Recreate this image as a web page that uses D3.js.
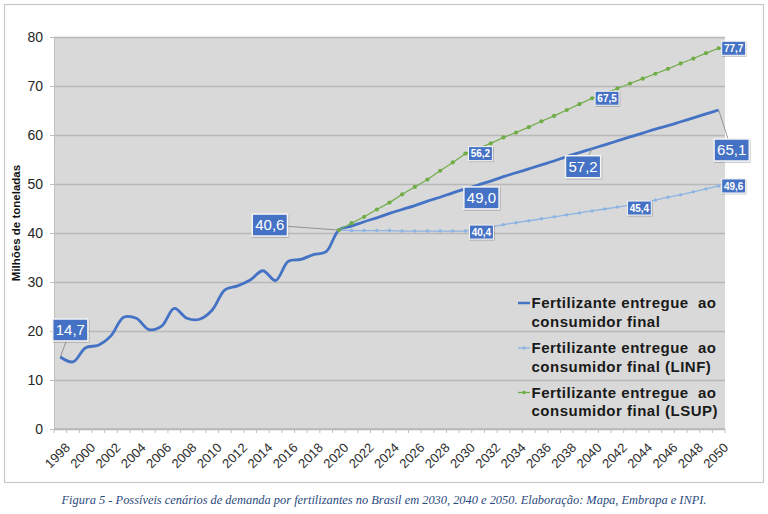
<!DOCTYPE html>
<html>
<head>
<meta charset="utf-8">
<script src="https://cdn.jsdelivr.net/npm/d3@7"></script>
<style>
  body { margin: 0; background: #fff; }
  svg { display: block; font-family: "Liberation Sans", Arial, sans-serif; }
</style>
</head>
<body>
<svg id="chart" width="768" height="514"></svg>
<script>
// --- data ---
const years = [1998, 1999, 2000, 2001, 2002, 2003, 2004, 2005, 2006, 2007, 2008, 2009, 2010,
  2011, 2012, 2013, 2014, 2015, 2016, 2017, 2018, 2019, 2020, 2021, 2022, 2023, 2024, 2025,
  2026, 2027, 2028, 2029, 2030, 2031, 2032, 2033, 2034, 2035, 2036, 2037, 2038, 2039, 2040,
  2041, 2042, 2043, 2044, 2045, 2046, 2047, 2048, 2049, 2050];

// 1998–2020 observed
const histValues = [14.7, 13.7, 16.6, 17.1, 19.0, 22.8, 22.6, 20.3, 21.0, 24.6, 22.6, 22.4,
  24.3, 28.4, 29.2, 30.4, 32.3, 30.3, 34.2, 34.6, 35.6, 36.2, 40.6];
// 2021–2050 base scenario
const baseProjValues = [41.4, 42.3, 43.1, 44.0, 44.8, 45.6, 46.5, 47.3, 48.2, 49.0,
  49.8, 50.6, 51.5, 52.3, 53.1, 53.9, 54.7, 55.6, 56.4, 57.2,
  58.0, 58.8, 59.6, 60.4, 61.2, 61.9, 62.7, 63.5, 64.3, 65.1];
// 2020–2050 lower / upper limits
const linfValues = [40.6, 40.5, 40.5, 40.5, 40.5, 40.4, 40.4, 40.4, 40.4, 40.4, 40.4,
  40.8, 41.2, 41.7, 42.1, 42.5, 42.9, 43.3, 43.7, 44.1, 44.5,
  44.9, 45.3, 45.7, 46.2, 46.7, 47.3, 47.8, 48.4, 49.0, 49.6];
const lsupValues = [40.6, 42.0, 43.3, 44.8, 46.2, 47.9, 49.4, 50.9, 52.7, 54.4, 56.2,
  57.3, 58.3, 59.5, 60.5, 61.6, 62.8, 63.9, 65.1, 66.3, 67.5,
  68.5, 69.5, 70.5, 71.5, 72.5, 73.5, 74.6, 75.6, 76.7, 77.7];

const yTicks = [0, 10, 20, 30, 40, 50, 60, 70, 80];
const xTickLabels = ['1998', '2000', '2002', '2004', '2006', '2008', '2010', '2012', '2014',
  '2016', '2018', '2020', '2022', '2024', '2026', '2028', '2030', '2032', '2034', '2036',
  '2038', '2040', '2042', '2044', '2046', '2048', '2050'];

const seriesNames = ['base', 'linf', 'lsup'];
const legendLines = [
  ['Fertilizante entregue  ao', 'consumidor final'],
  ['Fertilizante entregue  ao', 'consumidor final (LINF)'],
  ['Fertilizante entregue  ao', 'consumidor final (LSUP)']
];
const labelYears = [1998, 2020, 2030, 2040, 2050, 2030, 2042, 2050, 2030, 2040, 2050];
const labelSeries = ['base', 'base', 'base', 'base', 'base', 'linf', 'linf', 'linf', 'lsup', 'lsup', 'lsup'];
const labelTexts = ['14,7', '40,6', '49,0', '57,2', '65,1', '40,4', '45,4', '49,6', '56,2', '67,5', '77,7'];

const yTitle = 'Milhões de toneladas';
const caption = 'Figura 5 - Possíveis cenários de demanda por fertilizantes no Brasil em 2030, 2040 e 2050. Elaboração: Mapa, Embrapa e INPI.';

// --- layout / styles ---
const colors = { base: '#4472C4', linf: '#8DB4E2', lsup: '#70AD47' };
const plot = { left: 54, right: 725, top: 37, bottom: 429 };
// label placement relative to the point: dx, dy, big box?, leader line?
const labelLayout = [
  [10, -27, true, true], [-69, -5, true, true], [16, 9, true, false], [-9, 18, true, true], [13, 40, true, true],
  [16, 1, false, false], [22, 1, false, false], [15, 0, false, false],
  [15, 0, false, false], [15, 0, false, false], [15, 0, false, false]
];

const svg = d3.select('#chart');

const defs = svg.append('defs');
const shadow = defs.append('filter').attr('id', 'shadow')
  .attr('x', '-20%').attr('y', '-20%').attr('width', '150%').attr('height', '150%');
shadow.append('feDropShadow').attr('dx', 0.6).attr('dy', 0.8).attr('stdDeviation', 0.7)
  .attr('flood-color', '#000').attr('flood-opacity', 0.3);

// frame
svg.append('rect')
  .attr('x', 4.5).attr('y', 4.5).attr('width', 759).attr('height', 478)
  .attr('fill', '#fff').attr('stroke', '#c9c9c9').attr('stroke-width', 1.2);

const x = d3.scaleBand().domain(years).range([plot.left, plot.right]).padding(0);
const cx = d => x(d) + x.bandwidth() / 2;
const y = d3.scaleLinear().domain([0, 80]).range([plot.bottom, plot.top]);

// plot area
svg.append('rect')
  .attr('x', plot.left).attr('y', plot.top)
  .attr('width', plot.right - plot.left).attr('height', plot.bottom - plot.top)
  .attr('fill', '#d9d9d9');

// gridlines
svg.append('g')
  .attr('transform', `translate(${plot.left},0)`)
  .call(d3.axisLeft(y).tickValues(yTicks).tickFormat('').tickSize(-(plot.right - plot.left)))
  .call(g => g.select('.domain').remove())
  .call(g => g.selectAll('line').attr('stroke', '#b8b8b8').attr('stroke-width', 1.3));

// y axis
svg.append('g')
  .attr('transform', `translate(${plot.left},0)`)
  .call(d3.axisLeft(y).tickValues(yTicks).tickSize(4).tickPadding(7))
  .call(g => g.select('.domain').attr('stroke', '#bfbfbf'))
  .call(g => g.selectAll('line').attr('stroke', '#bfbfbf'))
  .call(g => g.selectAll('text').attr('fill', '#262626')
    .style('font-size', '14px').style('font-family', '"Liberation Sans", Arial, sans-serif'));

// x axis: ticks on category boundaries, labels every 2 years
const xAxis = svg.append('g').attr('class', 'x-axis');
xAxis.append('line')
  .attr('x1', plot.left).attr('x2', plot.right)
  .attr('y1', plot.bottom).attr('y2', plot.bottom)
  .attr('stroke', '#b8b8b8').attr('stroke-width', 1.3);
xAxis.selectAll('line.tick')
  .data(years.concat(['end']))
  .join('line')
  .attr('class', 'tick')
  .attr('x1', d => d === 'end' ? plot.right : x(d))
  .attr('x2', d => d === 'end' ? plot.right : x(d))
  .attr('y1', plot.bottom).attr('y2', plot.bottom + 4)
  .attr('stroke', '#bfbfbf');
xAxis.selectAll('text')
  .data(xTickLabels)
  .join('text')
  .attr('transform', d => `translate(${cx(+d) + 4},${plot.bottom + 13}) rotate(-45)`)
  .attr('text-anchor', 'end')
  .attr('dy', '0.7em')
  .attr('fill', '#2e2e2e')
  .style('font-size', '13px')
  .text(d => d);

// y title
svg.append('text')
  .attr('transform', `translate(20,223) rotate(-90)`)
  .attr('text-anchor', 'middle')
  .attr('fill', '#111')
  .style('font-size', '11.5px')
  .style('font-weight', 'bold')
  .text(yTitle);

// series
const histYears = years.slice(0, histValues.length);
const projYears = years.slice(histValues.length - 1);
const baseData = histYears.map((yr, i) => ({ year: yr, value: histValues[i] }))
  .concat(years.slice(histValues.length).map((yr, i) => ({ year: yr, value: baseProjValues[i] })));
const linfData = projYears.map((yr, i) => ({ year: yr, value: linfValues[i] }));
const lsupData = projYears.map((yr, i) => ({ year: yr, value: lsupValues[i] }));
const seriesData = { base: baseData, linf: linfData, lsup: lsupData };

const smoothLine = d3.line().x(d => cx(d.year)).y(d => y(d.value)).curve(d3.curveCatmullRom.alpha(0.5));
const straightLine = d3.line().x(d => cx(d.year)).y(d => y(d.value));

svg.append('path')
  .datum(baseData)
  .attr('fill', 'none')
  .attr('stroke', colors.base)
  .attr('stroke-width', 2.8)
  .attr('stroke-linejoin', 'round')
  .attr('d', smoothLine);

[['linf', 1.3, 1.7], ['lsup', 1.2, 2.1]].forEach(([key, w, r]) => {
  svg.append('path')
    .datum(seriesData[key])
    .attr('fill', 'none')
    .attr('stroke', colors[key])
    .attr('stroke-width', w)
    .attr('d', straightLine);
  svg.append('g')
    .selectAll('circle')
    .data(seriesData[key])
    .join('circle')
    .attr('cx', d => cx(d.year))
    .attr('cy', d => y(d.value))
    .attr('r', r)
    .attr('fill', colors[key]);
});

// legend (no box, sits in the lower right of the plot)
const legend = svg.append('g').attr('transform', 'translate(518,0)');
const legendTop = [303, 348, 392.5];
seriesNames.forEach((key, i) => {
  const g = legend.append('g').attr('transform', `translate(0,${legendTop[i]})`);
  g.append('line').attr('x1', 0).attr('x2', 12).attr('y1', 0).attr('y2', 0)
    .attr('stroke', colors[key]).attr('stroke-width', key === 'base' ? 2.5 : 1.3);
  if (key !== 'base') {
    g.append('circle').attr('cx', 6).attr('cy', 0).attr('r', 1.8).attr('fill', colors[key]);
  }
  g.selectAll('text')
    .data(legendLines[i])
    .join('text')
    .attr('x', 13.5)
    .attr('y', (d, j) => 5.3 + j * 18.3)
    .attr('fill', '#1a1a1a')
    .style('font-size', '15px')
    .style('font-weight', 'bold')
    .style('letter-spacing', '0.5px')
    .style('white-space', 'pre')
    .text(d => d);
});

// data labels
const labels = svg.append('g');
labelTexts.forEach((txt, i) => {
  const key = labelSeries[i];
  const pt = seriesData[key].find(d => d.year === labelYears[i]);
  const px = cx(pt.year), py = y(pt.value);
  const [dx, dy, big, leader] = labelLayout[i];
  const lx = px + dx, ly = py + dy;
  const fs = big ? 15 : 10;
  const g = labels.append('g');
  if (leader) {
    g.append('line')
      .attr('x1', px).attr('y1', py).attr('x2', lx).attr('y2', ly)
      .attr('stroke', '#8a8a8a').attr('stroke-width', 0.9);
  }
  const t = g.append('text')
    .attr('x', lx).attr('y', ly)
    .attr('text-anchor', 'middle')
    .attr('dy', '0.36em')
    .attr('fill', '#fff')
    .style('font-size', fs + 'px')
    .style('font-weight', big ? 'normal' : 'bold')
    .text(txt);
  const bb = t.node().getBBox();
  const padX = big ? 3 : 2;
  g.insert('rect', 'text')
    .attr('x', lx - bb.width / 2 - padX)
    .attr('y', ly - (big ? 11 : 7))
    .attr('width', bb.width + padX * 2)
    .attr('height', big ? 22 : 14)
    .attr('fill', '#4472C4')
    .attr('stroke', '#f4f4f4')
    .attr('stroke-width', big ? 1.5 : 1)
    .attr('filter', 'url(#shadow)');
});

// caption
svg.append('text')
  .attr('x', 384).attr('y', 504)
  .attr('text-anchor', 'middle')
  .attr('fill', '#2b4a7d')
  .style('font-family', '"Liberation Serif", "Times New Roman", serif')
  .style('font-style', 'italic')
  .style('font-size', '12.4px')
  .text(caption);
</script>
</body>
</html>
